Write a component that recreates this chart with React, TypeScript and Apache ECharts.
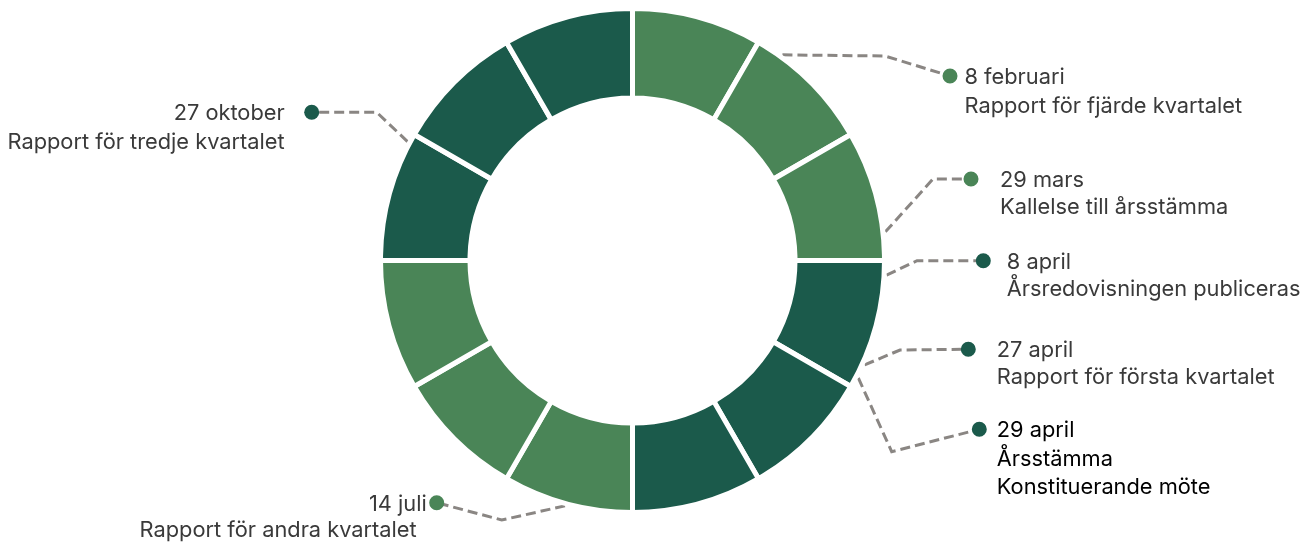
import React, { useEffect, useRef } from "react";
import * as echarts from "echarts";

// ---- data ----
const monthNames = [
  "januari", "februari", "mars", "april", "maj", "juni",
  "juli", "augusti", "september", "oktober", "november", "december",
];
const monthShare = [1, 1, 1, 1, 1, 1, 1, 1, 1, 1, 1, 1];
const monthQuarter = [0, 0, 0, 1, 1, 1, 2, 2, 2, 3, 3, 3];
const quarterColors = ["#4a8557", "#1b5a4b", "#4a8557", "#1b5a4b"];

const eventDates = ["8 februari", "29 mars", "8 april", "27 april", "29 april", "14 juli", "27 oktober"];
const eventTexts = [
  ["Rapport för fjärde kvartalet"],
  ["Kallelse till årsstämma"],
  ["Årsredovisningen publiceras"],
  ["Rapport för första kvartalet"],
  ["Årsstämma", "Konstituerande möte"],
  ["Rapport för andra kvartalet"],
  ["Rapport för tredje kvartalet"],
];
const eventMonth = [1, 2, 3, 3, 3, 6, 9];
// where each connector meets the wheel, in days of a 365-day year (as drawn)
const eventWheelDay = [36.6, 84.7, 94.6, 115.8, 119.1, 198.1, 302];
const daysInYear = 365;

// ---- layout / style ----
const CENTER: [number, number] = [632.5, 260.5];
const DOT = 15;
const FONT_SIZE = 21.8;
const FONT = "Inter, Roboto, sans-serif";
const eventLayout = [
  { side: "right", elbow: [885, 56], dot: [950, 76], gap: 7, extra: 0, lh: 29, strong: false },
  { side: "right", elbow: [933, 179], dot: [971, 179], gap: 21.5, extra: 0, lh: 27, strong: false },
  { side: "right", elbow: [917, 260.7], dot: [983.3, 260.7], gap: 16, extra: 0, lh: 27, strong: false },
  { side: "right", elbow: [900, 350], dot: [968.3, 349.3], gap: 21, extra: 0, lh: 27, strong: false },
  { side: "right", elbow: [891.7, 451.7], dot: [979.3, 429.3], gap: 10, extra: 0, lh: 28.5, strong: true },
  { side: "left", elbow: [501.7, 520], dot: [436.7, 502.7], gap: 2.5, extra: 10, lh: 26, strong: false },
  { side: "left", elbow: [376.7, 112.3], dot: [311.7, 112.3], gap: 19.5, extra: 0, lh: 29, strong: false },
];

function buildOption() {
  const rich: Record<string, any> = {};
  const eventData: any[] = [];
  let cursor = 0;
  const W = 0.2;
  eventWheelDay.forEach((d, i) => {
    const L = eventLayout[i];
    const color = L.strong ? "#000000" : "#3a3a3a";
    rich["t" + i] = { fontSize: FONT_SIZE, fontFamily: FONT, color, lineHeight: L.lh };
    rich["dot" + i] = {
      width: DOT,
      height: DOT,
      borderRadius: DOT / 2,
      backgroundColor: quarterColors[monthQuarter[eventMonth[i]]],
    };
    rich["g" + i] = { width: L.gap, height: 10 };
    rich["p" + i] = { width: DOT + L.gap + L.extra, height: 10 };
    let fmt: string;
    if (L.side === "right") {
      fmt = `{dot${i}|}{g${i}|}{t${i}|${eventDates[i]}}` +
        eventTexts[i].map((t) => `\n{p${i}|}{t${i}|${t}}`).join("");
    } else {
      fmt = `{t${i}|${eventDates[i]}}{g${i}|}{dot${i}|}` +
        eventTexts[i].map((t) => `\n{t${i}|${t}}{p${i}|}`).join("");
    }
    eventData.push({
      name: "gap" + i,
      value: d - W / 2 - cursor,
      label: { show: false },
      labelLine: { show: false },
    });
    eventData.push({
      name: eventDates[i],
      value: W,
      label: { show: true, formatter: fmt, align: L.side === "right" ? "left" : "right" },
      labelLine: { show: true },
    });
    cursor = d + W / 2;
  });
  eventData.push({
    name: "rest",
    value: daysInYear - cursor,
    label: { show: false },
    labelLine: { show: false },
  });

  return {
    animation: false,
    series: [
      {
        type: "pie",
        center: CENTER,
        radius: [162.5, 252],
        startAngle: 90,
        clockwise: true,
        silent: true,
        label: { show: false },
        labelLine: { show: false },
        itemStyle: { borderColor: "#ffffff", borderWidth: 5 },
        data: monthNames.map((n, i) => ({
          name: n,
          value: monthShare[i],
          itemStyle: { color: quarterColors[monthQuarter[i]] },
        })),
      },
      {
        type: "pie",
        center: CENTER,
        radius: [0, 254.5],
        startAngle: 90,
        clockwise: true,
        silent: true,
        avoidLabelOverlap: false,
        minShowLabelAngle: 0,
        itemStyle: { color: "rgba(0,0,0,0)", borderWidth: 0 },
        label: { show: true, position: "outside", rich },
        labelLine: {
          show: true,
          lineStyle: { color: "#8a8683", width: 3, type: [10, 5] },
        },
        labelLayout: (params: any) => {
          const idx = params.dataIndex;
          if (idx % 2 === 0) return {};
          const i = (idx - 1) / 2;
          const L = eventLayout[i];
          if (!L) return {};
          const pts = params.labelLinePoints;
          const res: any = {
            x: L.side === "right" ? L.dot[0] - DOT / 2 : L.dot[0] + DOT / 2,
            y: L.dot[1] - L.lh / 2,
            align: L.side === "right" ? "left" : "right",
            verticalAlign: "top",
          };
          if (pts && pts[0]) {
            res.labelLinePoints = [[pts[0][0], pts[0][1]], [L.elbow[0], L.elbow[1]], [L.dot[0], L.dot[1]]];
          }
          return res;
        },
        data: eventData,
      },
    ],
  };
}

export default function App() {
  const ref = useRef<HTMLDivElement>(null);
  useEffect(() => {
    if (!ref.current) return;
    const chart = echarts.init(ref.current, null, { renderer: "svg" });
    chart.setOption(buildOption() as any);
    return () => chart.dispose();
  }, []);
  return (
    <div
      ref={ref}
      style={{ position: "fixed", left: 0, top: 0, width: 1314, height: 543 }}
    />
  );
}
